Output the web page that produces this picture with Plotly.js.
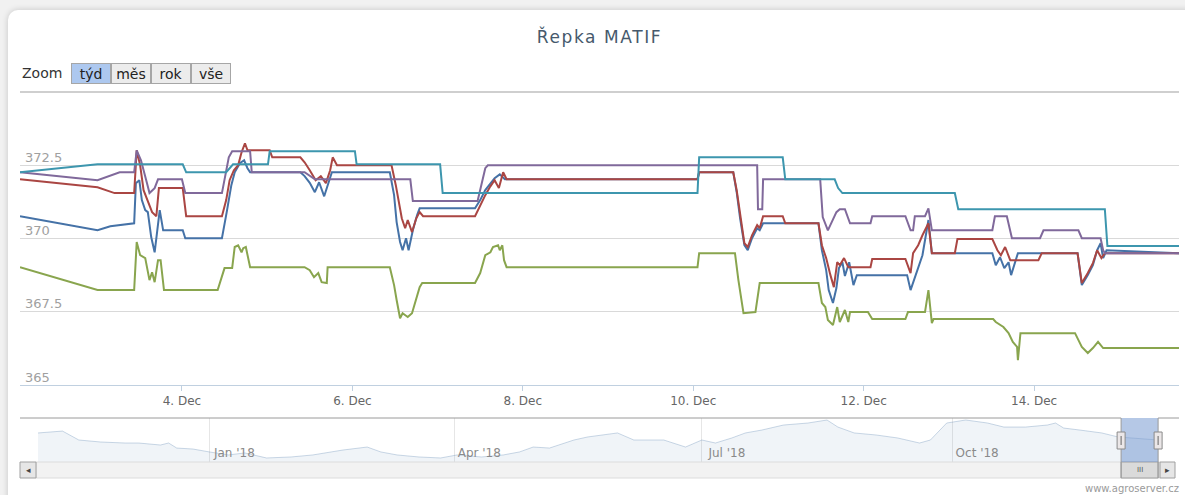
<!DOCTYPE html>
<html>
<head>
<meta charset="utf-8">
<script src="https://cdn.plot.ly/plotly-3.0.1.min.js"></script>
<style>
  body { margin: 0; background: #f1f1f1; }
  #card { position: absolute; left: 8px; top: 10px; width: 1190px; height: 500px;
          background: #fff; border-radius: 10px; box-shadow: 0 0 6px rgba(0,0,0,0.18); }
  #chart { position: absolute; left: 0; top: 0; width: 1185px; height: 495px; }
  #chart .gtitle { letter-spacing: 1.6px; }
</style>
</head>
<body>
<div id="card"></div>
<div id="chart"></div>
<script>
// --- data: [day of December 2018 (decimal), price EUR/t] ---
const seriesNames = ['únor 19', 'květen 19', 'srpen 19', 'listopad 19', 'únor 20'];
const seriesColors = ['#4572A7', '#AA4643', '#89A54E', '#80699B', '#3D96AE'];

const modra = [[2.10,370.76],[3.01,370.28],[3.16,370.42],[3.44,370.52],[3.46,371.89],[3.50,371.99],[3.53,371.31],[3.57,370.97],[3.60,370.90],[3.64,370.05],[3.68,369.53],[3.72,370.46],[3.74,370.97],[3.78,370.28],[4.01,370.28],[4.04,370.01],[4.47,370.01],[4.53,370.97],[4.58,371.82],[4.62,372.26],[4.68,372.57],[4.73,372.67],[4.77,372.40],[4.80,372.26],[5.39,372.26],[5.44,372.13],[5.50,371.90],[5.56,371.58],[5.61,371.92],[5.67,371.44],[5.71,371.78],[5.76,372.26],[6.44,372.26],[6.49,371.48],[6.52,370.56],[6.56,369.88],[6.59,369.60],[6.63,370.01],[6.66,369.60],[6.71,370.28],[6.76,370.80],[6.79,371.03],[7.44,371.03],[7.50,371.31],[7.56,371.65],[7.62,371.89],[7.67,372.06],[7.73,372.19],[7.79,372.02],[10.05,372.02],[10.07,372.26],[10.47,372.26],[10.51,371.58],[10.55,370.69],[10.60,369.77],[10.64,369.60],[10.69,370.01],[10.75,370.35],[10.78,370.28],[10.82,370.52],[11.47,370.52],[11.51,369.60],[11.56,368.92],[11.59,368.24],[11.64,367.80],[11.68,368.31],[11.71,368.99],[11.75,369.19],[11.78,368.72],[11.83,369.19],[11.88,368.41],[11.92,368.75],[12.51,368.75],[12.55,368.24],[12.59,368.58],[12.64,368.99],[12.69,369.43],[12.72,369.94],[12.76,370.63],[12.80,369.50],[13.51,369.50],[13.55,369.09],[13.60,369.36],[13.65,368.99],[13.70,369.19],[13.73,368.75],[13.78,369.19],[13.81,369.50],[14.51,369.50],[14.56,368.41],[14.63,368.75],[14.69,369.09],[14.74,369.60],[14.78,369.84],[14.81,369.33],[14.85,369.60],[15.70,369.50]];

const cervena = [[2.10,372.02],[3.01,371.75],[3.21,371.55],[3.44,371.55],[3.47,373.01],[3.51,372.50],[3.55,371.65],[3.60,371.24],[3.65,370.90],[3.70,370.76],[3.73,371.72],[4.01,371.72],[4.05,370.76],[4.47,370.76],[4.52,371.31],[4.56,371.99],[4.61,372.33],[4.66,372.50],[4.70,372.94],[4.74,373.25],[4.77,373.01],[5.03,373.01],[5.06,372.77],[5.39,372.77],[5.44,372.60],[5.50,372.33],[5.57,371.99],[5.63,372.13],[5.69,371.89],[5.74,372.33],[5.77,372.77],[5.82,372.50],[6.46,372.50],[6.51,371.82],[6.55,371.14],[6.58,370.69],[6.62,370.35],[6.65,370.63],[6.70,370.22],[6.75,370.69],[6.79,370.90],[6.83,370.76],[7.44,370.76],[7.50,371.14],[7.56,371.48],[7.62,371.78],[7.67,371.99],[7.72,371.72],[7.77,372.26],[7.81,372.02],[10.05,372.02],[10.07,372.26],[10.47,372.26],[10.51,371.65],[10.55,370.80],[10.60,369.84],[10.64,369.71],[10.69,370.11],[10.75,370.46],[10.78,370.35],[10.82,370.76],[11.05,370.76],[11.08,370.52],[11.47,370.52],[11.51,369.77],[11.56,369.33],[11.61,368.75],[11.65,368.34],[11.69,369.19],[11.72,369.09],[11.77,369.33],[11.82,369.02],[12.08,369.02],[12.10,369.30],[12.49,369.30],[12.55,368.82],[12.58,369.50],[12.64,369.77],[12.69,370.11],[12.76,370.52],[12.80,369.50],[13.07,369.50],[13.10,369.98],[13.51,369.98],[13.57,369.60],[13.61,369.43],[13.66,369.71],[13.72,369.26],[14.05,369.26],[14.09,369.50],[14.51,369.50],[14.56,368.48],[14.63,368.82],[14.69,369.16],[14.74,369.60],[14.79,369.33],[14.83,369.50],[15.70,369.50]];

const zelena = [[2.10,369.02],[3.01,368.24],[3.44,368.24],[3.47,369.88],[3.51,369.43],[3.57,369.33],[3.62,368.58],[3.65,368.85],[3.68,368.51],[3.72,369.26],[3.75,369.26],[3.79,368.24],[4.42,368.24],[4.50,368.99],[4.59,368.99],[4.62,369.71],[4.66,369.77],[4.70,369.53],[4.72,369.67],[4.75,369.71],[4.80,369.02],[5.44,369.02],[5.50,368.92],[5.55,368.68],[5.60,368.82],[5.64,368.51],[5.70,368.48],[5.71,369.02],[6.44,369.02],[6.49,368.41],[6.52,367.90],[6.56,367.28],[6.59,367.45],[6.65,367.32],[6.70,367.45],[6.76,368.07],[6.79,368.34],[6.82,368.48],[7.44,368.48],[7.50,368.82],[7.56,369.43],[7.62,369.53],[7.65,369.71],[7.71,369.77],[7.73,369.60],[7.76,369.77],[7.78,369.26],[7.81,369.02],[10.05,369.02],[10.07,369.50],[10.49,369.50],[10.53,368.58],[10.59,367.45],[10.73,367.49],[10.78,368.48],[11.47,368.48],[11.51,367.80],[11.55,367.66],[11.58,367.22],[11.64,367.05],[11.69,367.66],[11.72,367.15],[11.78,367.56],[11.82,367.15],[11.84,367.49],[12.05,367.49],[12.10,367.25],[12.49,367.25],[12.52,367.49],[12.72,367.49],[12.76,368.24],[12.80,367.11],[12.82,367.25],[13.52,367.25],[13.55,367.15],[13.64,366.98],[13.70,366.77],[13.75,366.47],[13.80,366.30],[13.81,365.85],[13.84,366.77],[14.48,366.77],[14.56,366.30],[14.63,366.09],[14.69,366.26],[14.75,366.47],[14.81,366.26],[15.70,366.26]];

const fialova = [[2.10,372.26],[3.01,371.99],[3.27,372.26],[3.44,372.26],[3.47,373.01],[3.52,372.67],[3.59,371.89],[3.62,371.55],[3.68,371.72],[3.72,372.02],[4.00,372.02],[4.04,371.55],[4.47,371.55],[4.55,372.77],[4.59,372.98],[4.80,372.98],[4.82,372.26],[5.44,372.26],[5.56,372.02],[6.68,372.02],[6.71,371.28],[7.47,371.28],[7.56,372.40],[7.59,372.50],[10.75,372.50],[10.76,371.00],[10.81,371.00],[10.82,372.02],[11.49,372.02],[11.52,370.73],[11.58,370.28],[11.68,370.90],[11.72,371.00],[11.78,371.00],[11.84,370.52],[12.08,370.52],[12.10,370.76],[12.49,370.76],[12.55,370.28],[12.58,370.28],[12.60,370.76],[12.72,370.76],[12.76,371.03],[12.80,370.28],[13.51,370.28],[13.54,370.76],[13.68,370.76],[13.74,370.01],[14.07,370.01],[14.11,370.28],[14.52,370.28],[14.56,370.01],[14.78,370.01],[14.81,369.60],[14.83,369.50],[15.70,369.50]];

const tyrkys = [[2.10,372.26],[3.01,372.53],[4.01,372.53],[4.05,372.26],[4.52,372.26],[4.60,372.53],[5.01,372.53],[5.03,372.98],[6.03,372.98],[6.05,372.53],[7.03,372.53],[7.06,371.55],[10.05,371.55],[10.07,372.77],[11.05,372.77],[11.08,372.02],[11.66,372.02],[11.70,371.72],[11.75,371.55],[13.07,371.55],[13.11,371.00],[14.83,371.00],[14.86,369.74],[15.70,369.74]];

// navigator: whole year of the front contract
const navDates = ['2017-10-30','2017-11-08','2017-11-14','2017-11-22','2017-12-01','2017-12-06','2017-12-14','2017-12-17','2017-12-20','2017-12-26','2018-01-01','2018-01-08','2018-01-14','2018-01-22','2018-01-31','2018-02-08','2018-02-19','2018-02-28','2018-03-05','2018-03-11','2018-03-19','2018-03-27','2018-04-02','2018-04-11','2018-04-19','2018-04-25','2018-04-30','2018-05-06','2018-05-15','2018-05-20','2018-05-31','2018-06-06','2018-06-17','2018-06-25','2018-07-01','2018-07-06','2018-07-12','2018-07-17','2018-07-23','2018-07-31','2018-08-09','2018-08-16','2018-08-20','2018-08-26','2018-09-03','2018-09-11','2018-09-19','2018-09-23','2018-09-29','2018-10-06','2018-10-14','2018-10-20','2018-10-28','2018-11-05','2018-11-08','2018-11-11','2018-11-17','2018-11-25','2018-12-01','2018-12-15 16:48'];
const navValues = [368.1,369.6,362.5,360.9,360.1,360.1,358.5,360.1,356.1,355.3,353.0,350.6,352.2,348.2,349.0,350.6,354.5,356.9,353.0,350.6,349.0,348.2,350.6,349.0,350.6,353.0,356.9,356.1,362.5,364.9,368.1,362.5,362.5,356.9,362.5,360.1,364.1,368.1,370.4,374.4,376.0,378.4,372.8,368.1,366.5,364.1,360.1,362.5,376.0,378.4,376.0,372.8,372.8,374.4,376.0,372.0,370.4,368.1,364.9,362.5];

const zoomButtons = ['týd', 'měs', 'rok', 'vše'];
const yTicks = [365, 367.5, 370, 372.5, 375];
const yTickText = ['365', '367.5', '370', '372.5', ''];

// --- helpers ---
function toDate(d) {
  const ms = Date.UTC(2018, 11, 1) + (d - 1) * 864e5;
  return new Date(ms).toISOString().slice(0, 16).replace('T', ' ');
}
// chart frame in pixels (for the zoom bar / scrollbar chrome)
const PL = 20, PR = 1179, PT = 92, PB = 462;
const px = v => (v - PL) / (PR - PL);
const py = v => (PB - v) / (PB - PT);

const allSeries = [modra, cervena, zelena, fialova, tyrkys];
const traces = allSeries.map((s, i) => ({
  x: s.map(p => toDate(p[0])),
  y: s.map(p => p[1]),
  name: seriesNames[i],
  type: 'scatter',
  mode: 'lines',
  line: { color: seriesColors[i], width: 2 },
  hoverinfo: 'skip',
  showlegend: false
}));

traces.push({
  x: navDates, y: navValues,
  xaxis: 'x2', yaxis: 'y2',
  type: 'scatter', mode: 'lines',
  fill: 'tozeroy',
  fillcolor: 'rgba(69,114,167,0.08)',
  line: { color: 'rgba(69,114,167,0.28)', width: 1 },
  hoverinfo: 'skip', showlegend: false
});

const winStart = toDate(modra[0][0]);
const winEnd = toDate(modra[modra.length - 1][0]);
const navStart = navDates[0];
const navEnd = '2018-12-17 12:00';
const navTop = py(418), sbBottom = py(478), navDom = [px(38), px(1163)];
const outline = '#9a9a9a';

const shapes = [
  // top grid line (375)
  { type: 'line', xref: 'paper', yref: 'paper', x0: 0, x1: 1, y0: 1, y1: 1, line: { color: '#cfcfcf', width: 2 } },
  // scrollbar track and buttons
  { type: 'rect', xref: 'paper', yref: 'paper', x0: px(36), x1: px(1160), y0: sbBottom, y1: 0,
    fillcolor: '#f2f2f2', line: { color: '#dcdcdc', width: 1 } },
  { type: 'rect', xref: 'paper', yref: 'paper', x0: px(20), x1: px(36), y0: sbBottom, y1: 0,
    fillcolor: '#e6e6e6', line: { color: '#a0a0a0', width: 1 } },
  { type: 'rect', xref: 'paper', yref: 'paper', x0: px(1160), x1: px(1175), y0: sbBottom, y1: 0,
    fillcolor: '#e6e6e6', line: { color: '#a0a0a0', width: 1 } },
  { type: 'rect', xref: 'x2', yref: 'paper', x0: winStart, x1: winEnd, y0: sbBottom, y1: 0,
    fillcolor: '#dadada', line: { color: '#a0a0a0', width: 1 } },
  // selected window in navigator
  { type: 'rect', xref: 'x2', yref: 'paper', x0: winStart, x1: winEnd, y0: 0, y1: navTop,
    fillcolor: 'rgba(120,155,210,0.55)', line: { width: 0 }, layer: 'above' },
  // navigator outline
  { type: 'line', xref: 'paper', yref: 'paper', x0: 0, x1: navDom[0], y0: navTop, y1: navTop, line: { color: outline, width: 1 } },
  { type: 'line', xref: 'x2', yref: 'paper', x0: navStart, x1: winStart, y0: navTop, y1: navTop, line: { color: outline, width: 1 } },
  { type: 'line', xref: 'x2', yref: 'paper', x0: winStart, x1: winStart, y0: navTop, y1: sbBottom, line: { color: outline, width: 1 } },
  { type: 'line', xref: 'x2', yref: 'paper', x0: winEnd, x1: winEnd, y0: navTop, y1: sbBottom, line: { color: outline, width: 1 } },
  { type: 'line', xref: 'x2', yref: 'paper', x0: winEnd, x1: navEnd, y0: navTop, y1: navTop, line: { color: outline, width: 1 } },
  { type: 'line', xref: 'paper', yref: 'paper', x0: navDom[1], x1: 1, y0: navTop, y1: navTop, line: { color: outline, width: 1 } }
];
// navigator handles
[winStart, winEnd].forEach(t => {
  shapes.push({ type: 'rect', xref: 'x2', yref: 'paper', xsizemode: 'pixel', xanchor: t, x0: -4, x1: 4,
    y0: py(449), y1: py(432), fillcolor: '#ebe7e8', line: { color: '#8a8a8a', width: 1 }, layer: 'above' });
  shapes.push({ type: 'line', xref: 'x2', yref: 'paper', xsizemode: 'pixel', xanchor: t, x0: 0, x1: 0,
    y0: py(445), y1: py(436), line: { color: '#666', width: 1 }, layer: 'above' });
});

const font = 'DejaVu Sans, Verdana, sans-serif';
const annotations = [
  { text: 'Zoom', xref: 'paper', yref: 'paper', x: px(20), y: py(73), xanchor: 'left', yanchor: 'middle',
    showarrow: false, font: { family: font, size: 14, color: '#333' } },
  { text: '◂', xref: 'paper', yref: 'paper', x: px(28), y: py(470), xanchor: 'center', yanchor: 'middle', showarrow: false,
    font: { family: font, size: 9, color: '#444' } },
  { text: '▸', xref: 'paper', yref: 'paper', x: px(1167.5), y: py(470), xanchor: 'center', yanchor: 'middle', showarrow: false,
    font: { family: font, size: 9, color: '#444' } },
  { text: 'III', xref: 'x2', yref: 'paper', x: toDate((modra[0][0] + modra[modra.length - 1][0]) / 2), y: py(470),
    xanchor: 'center', yanchor: 'middle', showarrow: false, font: { family: font, size: 7, color: '#555' } },
  { text: 'www.agroserver.cz', xref: 'paper', yref: 'paper', x: px(1181), y: py(488), xanchor: 'right', yanchor: 'middle',
    showarrow: false, font: { family: font, size: 10, color: '#9a9a9a' } }
];
zoomButtons.forEach((b, i) => {
  annotations.push({
    text: b, xref: 'paper', yref: 'paper', x: px(91 + 40 * i), y: py(73),
    xanchor: 'center', yanchor: 'middle', showarrow: false,
    width: 38, height: 19, borderpad: 0, borderwidth: 1, bordercolor: '#a6a6a6',
    bgcolor: i === 0 ? '#adc8ef' : '#ececec',
    font: { family: font, size: 14, color: '#222' }
  });
});

const layout = {
  width: 1185, height: 495,
  margin: { l: PL, r: 1185 - PR, t: PT, b: 495 - PB, pad: 0 },
  paper_bgcolor: 'rgba(0,0,0,0)',
  plot_bgcolor: 'rgba(0,0,0,0)',
  font: { family: font },
  title: { text: 'Řepka MATIF', x: px(599.5), xref: 'paper', y: 1 - 37 / 495, yref: 'container',
           yanchor: 'middle', font: { family: font, size: 17, color: '#46596c' } },
  xaxis: {
    type: 'date', domain: [0, 1], anchor: 'y',
    range: [winStart, winEnd],
    tick0: '2018-12-04', dtick: 2 * 864e5, tickformat: '%-d. %b',
    ticks: 'outside', ticklen: 5, tickcolor: '#C0D0E0',
    showline: true, linecolor: '#C0D0E0', linewidth: 1,
    showgrid: false, zeroline: false,
    tickfont: { size: 12, color: '#666' }
  },
  yaxis: {
    domain: [py(385), 1], anchor: 'x',
    range: [365, 375],
    tickvals: yTicks, ticktext: yTickText,
    ticklabelposition: 'inside', ticklabelshift: -8, ticklabelstandoff: 2,
    ticks: '', showgrid: true, gridcolor: '#d9d9d9', gridwidth: 1,
    zeroline: false, showline: false,
    tickfont: { size: 13, color: '#a0a0a0' }
  },
  xaxis2: {
    type: 'date', domain: navDom, anchor: 'y2',
    range: [navStart, navEnd],
    tick0: '2018-01-01', dtick: 'M3', tickformat: "%b '%y",
    ticklabelposition: 'inside', ticklabelshift: 25, ticklabelstandoff: 0,
    ticks: '', showgrid: true, gridcolor: '#e6e6e6', zeroline: false, showline: false,
    tickfont: { size: 12, color: '#8a8a8a' }
  },
  yaxis2: {
    domain: [0, navTop], anchor: 'x2', range: [345, 380],
    showticklabels: false, showgrid: false, zeroline: false, showline: false, ticks: ''
  },
  shapes: shapes,
  annotations: annotations,
  hovermode: false
};

Plotly.newPlot('chart', traces, layout, { displayModeBar: false, staticPlot: true });
</script>
</body>
</html>
